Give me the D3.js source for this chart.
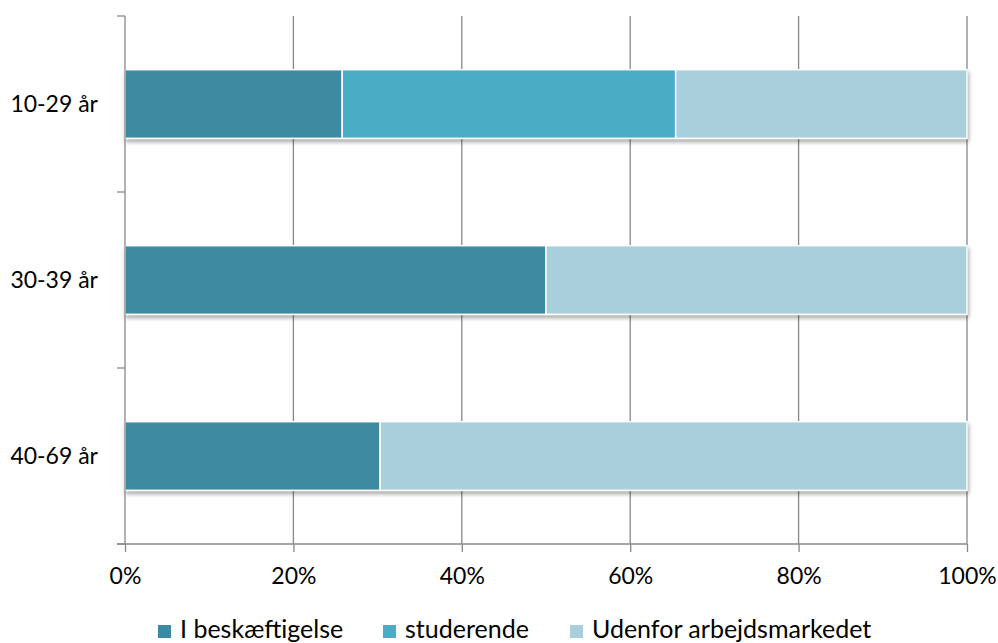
<!DOCTYPE html>
<html lang="da">
<head>
<meta charset="utf-8">
<title>Beskæftigelse efter alder</title>
<script src="https://d3js.org/d3.v7.min.js"></script>
<style>
  body { margin: 0; background: #fff; }
  text { font-family: Lato, "Open Sans", sans-serif; fill: #000; }
</style>
</head>
<body>
<script>
// data
var categories = ["10-29 år", "30-39 år", "40-69 år"];
var seriesNames = ["I beskæftigelse", "studerende", "Udenfor arbejdsmarkedet"];
var beskaeftigelse = [0.258, 0.50, 0.303];
var studerende = [0.396, 0.0, 0.0];
var udenfor = [0.346, 0.50, 0.697];
var xTicks = [0, 0.2, 0.4, 0.6, 0.8, 1.0];
var colors = ["#3c8aa1", "#4bacc6", "#a9cedc"];

var w = 998, h = 643;
var mLeft = 125, mRight = 967, mTop = 16, mBottom = 544;

var svg = d3.select("body").append("svg").attr("width", w).attr("height", h);

var defs = svg.append("defs");
var f = defs.append("filter").attr("id", "shadow").attr("x", "-5%").attr("y", "-20%").attr("width", "110%").attr("height", "160%");
f.append("feDropShadow").attr("dx", 1).attr("dy", 3).attr("stdDeviation", 2)
  .attr("flood-color", "#000").attr("flood-opacity", 0.35);

var x = d3.scaleLinear().domain([0, 1]).range([mLeft, mRight]);
var y = d3.scaleBand().domain(categories).range([mTop, mBottom]).paddingInner(0.61).paddingOuter(0.305);
var yEdges = d3.scaleLinear().domain([0, categories.length]).range([mTop, mBottom]);

// gridlines
svg.append("g").selectAll("line").data(xTicks.slice(1)).enter().append("line")
  .attr("x1", function(d) { return x(d); }).attr("x2", function(d) { return x(d); })
  .attr("y1", mTop).attr("y2", mBottom)
  .attr("stroke", "#888").attr("stroke-width", 1.3);

// stacked bars
var rows = categories.map(function(c, i) {
  return { cat: c, b: beskaeftigelse[i], s: studerende[i], u: udenfor[i] };
});
var stack = d3.stack().keys(["b", "s", "u"])(rows);

var bars = svg.append("g").attr("filter", "url(#shadow)");
stack.forEach(function(layer, k) {
  bars.selectAll(null).data(layer.filter(function(d) { return d[1] - d[0] > 0; })).enter().append("rect")
    .attr("x", function(d) { return x(d[0]); })
    .attr("y", function(d) { return y(d.data.cat); })
    .attr("width", function(d) { return x(d[1]) - x(d[0]); })
    .attr("height", y.bandwidth())
    .attr("fill", colors[k])
    .attr("stroke", "#fff").attr("stroke-width", 1.5);
});

// y axis
var yAxisG = svg.append("g");
yAxisG.append("line").attr("x1", mLeft).attr("x2", mLeft).attr("y1", mTop).attr("y2", mBottom)
  .attr("stroke", "#888").attr("stroke-width", 1.3);
yAxisG.selectAll("line.tick").data(d3.range(categories.length + 1)).enter().append("line")
  .attr("class", "tick")
  .attr("x1", mLeft - 8).attr("x2", mLeft)
  .attr("y1", function(d) { return yEdges(d); }).attr("y2", function(d) { return yEdges(d); })
  .attr("stroke", "#888").attr("stroke-width", 1.3);
yAxisG.selectAll("text").data(categories).enter().append("text")
  .attr("x", 98)
  .attr("y", function(d) { return y(d) + y.bandwidth() / 2 + 8; })
  .attr("text-anchor", "end")
  .style("font-size", "23px")
  .text(function(d) { return d; });

// x axis
var xAxis = d3.axisBottom(x).tickValues(xTicks).tickFormat(d3.format(".0%")).tickSize(8).tickPadding(14);
var xg = svg.append("g").attr("transform", "translate(0," + mBottom + ")").call(xAxis);
xg.attr("font-size", null).attr("font-family", null);
xg.select(".domain").remove();
xg.append("line").attr("x1", mLeft - 8).attr("x2", mRight).attr("stroke", "#888").attr("stroke-width", 1.3);
xg.selectAll(".tick line").attr("stroke", "#888").attr("stroke-width", 1.3);
xg.selectAll(".tick text")
  .attr("y", 40).attr("dy", null)
  .style("font-size", "23px").attr("fill", "#000");

// legend
var legendX = [158, 383, 570];
var lg = svg.append("g");
seriesNames.forEach(function(name, i) {
  lg.append("rect").attr("x", legendX[i]).attr("y", 625).attr("width", 13).attr("height", 13).attr("fill", colors[i]);
  lg.append("text").attr("x", legendX[i] + 22).attr("y", 638).style("font-size", "25px").text(name);
});
</script>
</body>
</html>
